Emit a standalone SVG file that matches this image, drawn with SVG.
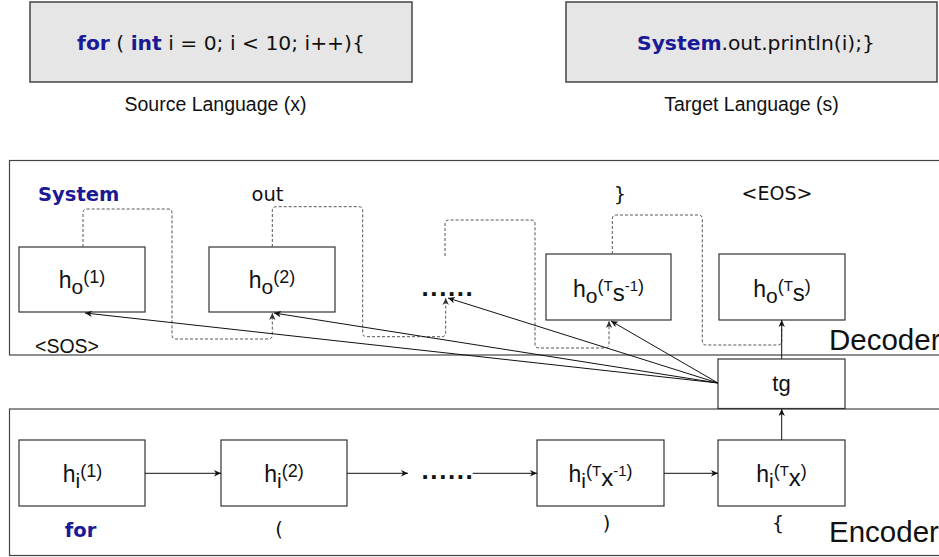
<svg xmlns="http://www.w3.org/2000/svg" width="939" height="557" viewBox="0 0 939 557">
  <style>
    .sans { font-family: "Liberation Sans", Arial, Helvetica, sans-serif; fill: #111; }
    .code { font-family: "DejaVu Sans", Verdana, sans-serif; fill: #111; }
    .kw { font-weight: bold; fill: #1a1a96; }
    .panel { fill: #e6e6e6; stroke: #444; stroke-width: 1.5; }
    .frame { fill: none; stroke: #444; stroke-width: 1.2; }
    .node { fill: #fff; stroke: #333; stroke-width: 1.2; }
    .lbl { font-family: "Liberation Sans", Arial, Helvetica, sans-serif; font-size: 23px; fill: #111; }
    .dots { font-family: "Liberation Sans", Arial, sans-serif; font-weight: bold; font-size: 26px; letter-spacing: 1.6px; fill: #111; }
    .link { fill: none; stroke: #111; stroke-width: 1; }
    .feed { fill: none; stroke: #555; stroke-width: 1; stroke-dasharray: 3 2; }
  </style>
  <defs>
    <marker id="arrow" viewBox="0 0 8 8" refX="7" refY="4" markerWidth="8" markerHeight="8" markerUnits="userSpaceOnUse" orient="auto">
      <path d="M0,0.8 L7,4 L0,7.2 L2,4 z" fill="#111"/>
    </marker>
    <marker id="arrowGray" viewBox="0 0 8 8" refX="7" refY="4" markerWidth="8" markerHeight="8" markerUnits="userSpaceOnUse" orient="auto">
      <path d="M0,0.8 L7,4 L0,7.2 L2,4 z" fill="#333"/>
    </marker>
  </defs>

  <!-- source / target code panels -->
  <g id="source">
    <rect class="panel" x="30" y="2" width="382" height="80"/>
    <text class="code" x="221" y="50" font-size="20.3" text-anchor="middle"><tspan class="kw">for</tspan> ( <tspan class="kw">int</tspan> i = 0; i &lt; 10; i++){</text>
    <text class="sans" x="215.5" y="111" font-size="19.5" text-anchor="middle">Source Language (x)</text>
  </g>
  <g id="target">
    <rect class="panel" x="566" y="2" width="371" height="80"/>
    <text class="code" x="756" y="50" font-size="20.3" text-anchor="middle"><tspan class="kw">System</tspan>.out.println(i);}</text>
    <text class="sans" x="751.5" y="111" font-size="19.5" text-anchor="middle">Target Language (s)</text>
  </g>

  <!-- decoder / encoder frames -->
  <g id="decoder">
    <rect class="frame" x="9.5" y="160.5" width="940" height="194.5"/>
    <text class="sans" x="829" y="350" font-size="29.5">Decoder</text>
  </g>
  <g id="encoder">
    <rect class="frame" x="9.5" y="409" width="940" height="146.5"/>
    <text class="sans" x="829" y="541.7" font-size="29.5">Encoder</text>
  </g>

  <!-- output tokens -->
  <g id="tokens-out">
    <text class="code kw" x="78.7" y="201" font-size="19.5" text-anchor="middle">System</text>
    <text class="code" x="267.5" y="201" font-size="19.5" text-anchor="middle">out</text>
    <text class="code" x="620" y="201" font-size="19.5" text-anchor="middle">}</text>
    <text class="code" x="777" y="200" font-size="19" text-anchor="middle">&lt;EOS&gt;</text>
    <text class="sans" x="35" y="353" font-size="19.5">&lt;SOS&gt;</text>
  </g>

  <!-- input tokens -->
  <g id="tokens-in">
    <text class="code kw" x="80.5" y="536.7" font-size="19.5" text-anchor="middle">for</text>
    <text class="code" x="279" y="536" font-size="19.5" text-anchor="middle">(</text>
    <text class="code" x="606.5" y="530" font-size="19.5" text-anchor="middle">)</text>
    <text class="code" x="778" y="530" font-size="19.5" text-anchor="middle">{</text>
  </g>

  <!-- decoder states -->
  <g id="ho1">
    <rect class="node" x="19" y="247" width="126" height="65"/>
    <text class="lbl" x="82" y="288" text-anchor="middle">h<tspan font-size="21" dy="6">o</tspan><tspan font-size="18" dy="-11.5">(1)</tspan></text>
  </g>
  <g id="ho2">
    <rect class="node" x="209" y="247" width="126" height="65"/>
    <text class="lbl" x="272" y="288" text-anchor="middle">h<tspan font-size="21" dy="6">o</tspan><tspan font-size="18" dy="-11.5">(2)</tspan></text>
  </g>
  <g id="ho-dots">
    <text class="dots" x="421.5" y="296">......</text>
  </g>
  <g id="hoTs1">
    <rect class="node" x="546" y="254" width="125" height="66"/>
    <text class="lbl" x="608.5" y="297" text-anchor="middle">h<tspan font-size="21" dy="6">o</tspan><tspan font-size="18" dy="-11.5">(</tspan><tspan font-size="15" dy="-1">T</tspan><tspan font-size="24" dy="10">s</tspan><tspan font-size="15" dy="-10">-1</tspan><tspan font-size="18" dy="1">)</tspan></text>
  </g>
  <g id="hoTs">
    <rect class="node" x="719" y="254" width="126" height="66"/>
    <text class="lbl" x="782" y="297" text-anchor="middle">h<tspan font-size="21" dy="6">o</tspan><tspan font-size="18" dy="-11.5">(</tspan><tspan font-size="15" dy="-1">T</tspan><tspan font-size="24" dy="10">s</tspan><tspan font-size="18" dy="-9">)</tspan></text>
  </g>

  <!-- attention / target generator -->
  <g id="tg">
    <rect class="node" x="718" y="359" width="127" height="49.5"/>
    <text class="sans" x="781.5" y="391" font-size="22" text-anchor="middle">tg</text>
  </g>

  <!-- encoder states -->
  <g id="hi1">
    <rect class="node" x="19" y="440" width="126" height="66"/>
    <text class="lbl" x="82.5" y="482" text-anchor="middle">h<tspan font-size="21" dy="6">i</tspan><tspan font-size="18" dy="-11.5">(1)</tspan></text>
  </g>
  <g id="hi2">
    <rect class="node" x="221" y="440" width="126" height="66"/>
    <text class="lbl" x="284" y="482" text-anchor="middle">h<tspan font-size="21" dy="6">i</tspan><tspan font-size="18" dy="-11.5">(2)</tspan></text>
  </g>
  <g id="hi-dots">
    <text class="dots" x="421.5" y="478.5">......</text>
  </g>
  <g id="hiTx1">
    <rect class="node" x="537" y="440" width="127" height="66"/>
    <text class="lbl" x="600.5" y="482" text-anchor="middle">h<tspan font-size="21" dy="6">i</tspan><tspan font-size="18" dy="-11.5">(</tspan><tspan font-size="15" dy="-1">T</tspan><tspan font-size="24" dy="10">x</tspan><tspan font-size="15" dy="-10">-1</tspan><tspan font-size="18" dy="1">)</tspan></text>
  </g>
  <g id="hiTx">
    <rect class="node" x="718" y="440" width="127" height="66"/>
    <text class="lbl" x="781.5" y="482" text-anchor="middle">h<tspan font-size="21" dy="6">i</tspan><tspan font-size="18" dy="-11.5">(</tspan><tspan font-size="15" dy="-1">T</tspan><tspan font-size="24" dy="10">x</tspan><tspan font-size="18" dy="-9">)</tspan></text>
  </g>

  <!-- connectors -->
  <g id="connectors">
    <!-- encoder chain -->
    <path class="link" d="M145,473.3 H221" marker-end="url(#arrow)"/>
    <path class="link" d="M347,473.3 H408" marker-end="url(#arrow)"/>
    <path class="link" d="M472.7,473.3 H537" marker-end="url(#arrow)"/>
    <path class="link" d="M664,473.3 H718" marker-end="url(#arrow)"/>
    <path class="link" d="M781.7,440 V409" marker-end="url(#arrow)"/>

    <!-- previous output fed back into the next decoder step -->
    <path class="feed" d="M83,247 V213 Q83,209 87,209 H168 Q172,209 172,213 V335 Q172,339 176,339 H268.3 Q272.3,339 272.3,335 V313" marker-end="url(#arrowGray)"/>
    <path class="feed" d="M272.3,247 V210.7 Q272.3,206.7 276.3,206.7 H358.7 Q362.7,206.7 362.7,210.7 V332.7 Q362.7,336.7 366.7,336.7 H441.7 Q445.7,336.7 445.7,332.7 V298" marker-end="url(#arrowGray)"/>
    <path class="feed" d="M445,256 V224 Q445,220 449,220 H531 Q535,220 535,224 V344 Q535,348 539,348 H605 Q609,348 609,344 V321" marker-end="url(#arrowGray)"/>
    <path class="feed" d="M612.3,254 V219 Q612.3,215 616.3,215 H698.3 Q702.3,215 702.3,219 V341 Q702.3,345 706.3,345 H777.7 Q781.7,345 781.7,341 V322"/>

    <!-- tg to decoder states -->
    <path class="link" d="M781.7,359 V320" marker-end="url(#arrow)"/>
    <path class="link" d="M718,383 L85,313" marker-end="url(#arrow)"/>
    <path class="link" d="M718,383 L274,313" marker-end="url(#arrow)"/>
    <path class="link" d="M718,383 L448,298" marker-end="url(#arrow)"/>
    <path class="link" d="M718,383 L611,321" marker-end="url(#arrow)"/>
  </g>
</svg>
